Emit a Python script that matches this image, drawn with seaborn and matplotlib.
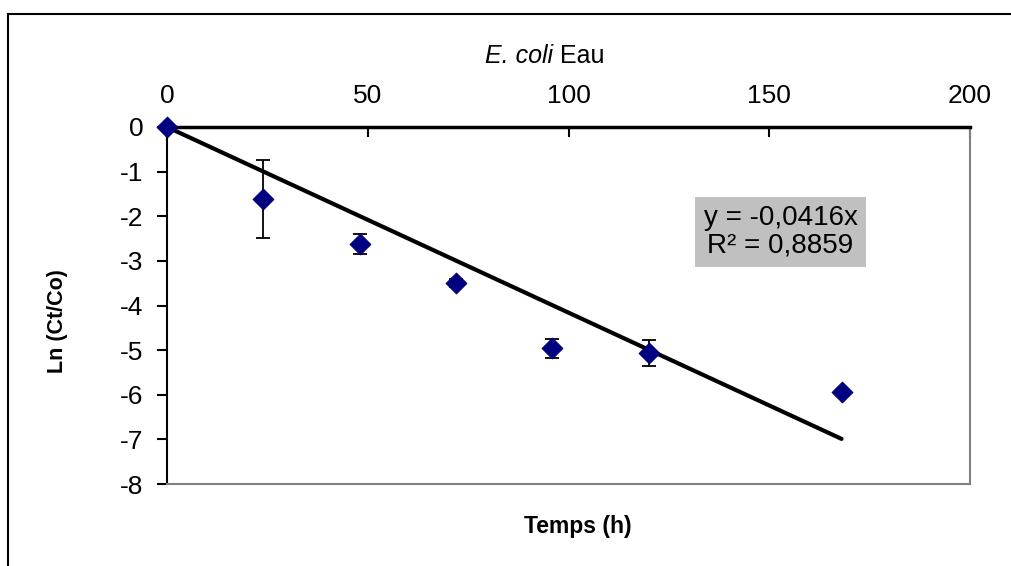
import numpy as np
import pandas as pd
import matplotlib
matplotlib.use("Agg")
import matplotlib.pyplot as plt
import seaborn as sns
from matplotlib.patches import Rectangle

# values
temps = [0, 24, 48, 72, 96, 120, 168]
ln_ratio = [0.0, -1.61, -2.62, -3.49, -4.96, -5.06, -5.93]
erreur = [0.0, 0.87, 0.22, 0.09, 0.21, 0.29, 0.0]
pente = -0.0416
r2 = 0.8859
trend_x = [0, 168]
x_ticks = [0, 50, 100, 150, 200]
y_ticks = [0, -1, -2, -3, -4, -5, -6, -7, -8]

sns.set_style("white")
plt.rcParams['font.family'] = ['Liberation Sans', 'DejaVu Sans']
plt.rcParams['text.color'] = 'black'
plt.rcParams['xtick.color'] = 'black'
plt.rcParams['ytick.color'] = 'black'
plt.rcParams['axes.labelcolor'] = 'black'

df = pd.DataFrame({"Temps": temps, "Ln": ln_ratio, "err": erreur})
trend = pd.DataFrame({"Temps": trend_x, "Ln": [pente * t for t in trend_x]})

W, H = 1011, 566
fig = plt.figure(figsize=(W / 100, H / 100), dpi=100)
ax = fig.add_axes([167 / W, 1 - 484 / H, (970 - 167) / W, (484 - 127) / H])

# outer chart frame (cropped on right and bottom)
fig.patches.append(Rectangle((8 / W, -0.1), 1.2, 1 - 14 / H + 0.1, transform=fig.transFigure,
                             fill=False, edgecolor="black", linewidth=1.5))

ax.errorbar(df["Temps"], df["Ln"], yerr=df["err"], fmt="none", ecolor="black",
            elinewidth=1.3, capsize=5, capthick=1.3, zorder=2)
sns.lineplot(data=trend, x="Temps", y="Ln", color="black", linewidth=3, ax=ax, zorder=3)
sns.scatterplot(data=df, x="Temps", y="Ln", marker="D", s=110, color="#000080",
                edgecolor="#000080", ax=ax, zorder=5)
for c in ax.collections:
    c.set_clip_on(False)

ax.set_xlim(0, 200)
ax.set_ylim(-8, 0)
ax.set_xticks(x_ticks)
ax.set_yticks(y_ticks)
ax.set_xticklabels([str(v) for v in x_ticks])
ax.set_yticklabels([str(v) for v in y_ticks])
ax.xaxis.tick_top()
ax.tick_params(axis="x", direction="in", length=7, width=1.5, labelsize=19, pad=14, top=True, bottom=False)
ax.tick_params(axis="y", direction="out", length=7, width=1.5, labelsize=19, pad=10, left=True)

ax.spines["top"].set_color("black")
ax.spines["top"].set_linewidth(2.5)
ax.spines["left"].set_color("black")
ax.spines["left"].set_linewidth(1.5)
for s in ["right", "bottom"]:
    ax.spines[s].set_color("#808080")
    ax.spines[s].set_linewidth(1.5)

ax.set_xlabel("")
ax.set_ylabel("")
fig.text(57.5 / W, 1 - 321 / H, "Ln (Ct/Co)", rotation=90, fontsize=15.5, fontweight="bold",
         ha="center", va="center")
fig.text(578 / W, 1 - 526 / H, "Temps (h)", fontsize=16.5, fontweight="bold",
         ha="center", va="center")
fig.text(553 / W, 1 - 56 / H, "E. coli", fontsize=18, style="italic", ha="right", va="center")
fig.text(553 / W, 1 - 56 / H, " Eau", fontsize=18, ha="left", va="center")

ax.text(0.764, 0.706, f"y = {str(pente).replace('.', ',')}x\nR² = {str(r2).replace('.', ',')}",
        transform=ax.transAxes, fontsize=20, ha="center", va="center", linespacing=1.1,
        bbox=dict(boxstyle="square,pad=0.3", facecolor="#C0C0C0", edgecolor="none"))

fig.savefig("out.png", dpi=100)
